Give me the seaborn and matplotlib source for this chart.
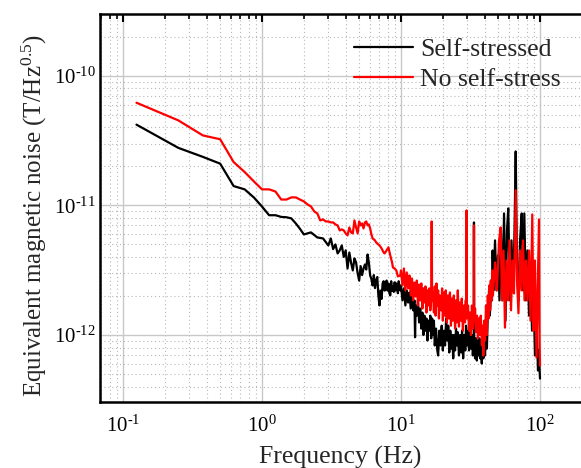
import numpy as np
import pandas as pd
import matplotlib
matplotlib.use("Agg")
import matplotlib.pyplot as plt
import seaborn as sns
from matplotlib.ticker import LogLocator, NullFormatter, FuncFormatter

series_names = ["Self-stressed", "No self-stress"]

self_freq = [0.125, 0.25, 0.375, 0.5, 0.625, 0.75, 0.875, 1.0, 1.125, 1.25, 1.375, 1.5,
             1.625, 1.75, 1.875, 2.0, 2.25, 2.5, 2.75, 3.0, 3.125, 3.25, 3.375, 3.5, 3.625,
             3.75, 3.875, 4.0, 4.125, 4.25, 4.375, 4.5, 4.625, 4.75, 4.875, 5.0, 5.125, 5.25,
             5.375, 5.5, 5.625, 5.75, 5.875, 6.0, 6.125, 6.25, 6.375, 6.5, 6.625, 6.75, 6.875,
             7.0, 7.125, 7.25, 7.375, 7.5, 7.625, 7.75, 7.875, 8.0, 8.125, 8.25, 8.375, 8.5,
             8.625, 8.75, 8.875, 9.0, 9.125, 9.25, 9.375, 9.5, 9.625, 9.75, 9.875,
             10.0, 10.25, 10.5, 10.75, 11.0, 11.25, 11.5, 11.75, 12.0, 12.25, 12.5, 12.625,
             12.75, 13.0, 13.25, 13.5, 13.75, 14.0, 14.25, 14.5, 14.75, 15.0, 15.25, 15.5,
             15.75, 16.0, 16.25, 16.5, 16.75, 17.0, 17.25, 17.5, 17.875, 18.25, 18.5, 18.875,
             19.25, 19.625, 20.0, 20.375, 20.75, 21.125, 21.5, 21.875, 22.25, 22.625, 23.0,
             23.375, 23.75, 24.125, 24.5, 24.875, 25.25, 25.625, 26.125, 26.625, 27.125, 27.5,
             28.0, 28.5, 29.0, 29.375, 29.875, 30.375, 30.875, 31.375, 31.875, 32.375, 32.875,
             33.375, 33.5, 33.625, 34.125, 34.625, 35.125, 35.625, 36.125, 36.625, 37.125,
             37.625, 38.125, 38.625, 39.125, 39.625, 40.25, 40.875, 41.5, 42.0, 42.5, 43.0,
             43.5, 44.0, 44.5, 45.125, 45.625, 46.25,
             47.5, 48.625, 49.875, 51.125, 52.375, 53.75, 55.125, 56.5, 57.875, 59.125, 60.875,
             62.375, 64.0, 65.5, 66.875, 68.375, 70.0, 71.875, 73.875, 75.5, 77.125, 79.25,
             81.25, 83.375, 85.5, 87.625, 89.875, 92.0, 94.375, 96.75, 98.0, 100.0]
self_noise = [4.2e-11, 2.78e-11, 2.37e-11, 2.1e-11, 1.41e-11, 1.33e-11, 1.15e-11, 9.8e-12,
              8.4e-12, 8.4e-12, 8.15e-12, 8.1e-12,
              7.94e-12, 7.26e-12, 6.6e-12, 5.97e-12, 6.19e-12, 5.66e-12, 5.56e-12, 4.91e-12,
              5.56e-12, 4.6e-12, 5.0e-12, 4.26e-12, 4.5e-12,
              4.91e-12, 4.0e-12, 4.5e-12, 3.26e-12, 4.33e-12, 3.6e-12, 3.15e-12, 3.9e-12,
              3.63e-12, 3.0e-12, 2.63e-12, 3.4e-12, 2.9e-12,
              3.26e-12, 3.5e-12, 3.2e-12, 4.18e-12, 3.6e-12, 2.88e-12, 2.7e-12, 2.41e-12,
              2.9e-12, 2.3e-12, 2.63e-12, 2.8e-12, 2.02e-12,
              1.69e-12, 2.2e-12, 1.9e-12, 2.5e-12, 2.6e-12, 2.2e-12, 2.45e-12, 2.63e-12,
              2.2e-12, 2.5e-12, 2.1e-12, 2.02e-12, 2.6e-12,
              2.2e-12, 2.37e-12, 2.15e-12, 2.55e-12, 2.2e-12, 2.5e-12, 2.4e-12, 2.1e-12,
              2.6e-12, 2.35e-12, 2.21e-12,
              2.41e-12, 1.85e-12, 2.29e-12, 1.69e-12, 2.21e-12, 1.78e-12, 2.13e-12, 1.60e-12,
              1.98e-12, 1.55e-12, 1.85e-12, 9.6e-13,
              1.69e-12, 1.41e-12, 1.85e-12, 1.25e-12, 1.60e-12, 1.12e-12, 1.49e-12, 1.0e-12,
              1.41e-12, 1.08e-12, 1.34e-12, 9.07e-13,
              1.29e-12, 1.08e-12, 1.41e-12, 9.43e-13, 1.34e-12, 1.0e-12, 1.29e-12, 8.3e-13,
              1.12e-12, 7.6e-13, 6.95e-13, 1.08e-12,
              8.3e-13, 1.18e-12, 7.6e-13, 1.08e-12, 8.3e-13, 1.34e-12, 9.07e-13, 1.18e-12,
              7.33e-13, 1.08e-12, 7.86e-13,
              1.0e-12, 6.6e-13, 1.0e-12, 7.6e-13, 1.12e-12, 8.3e-13, 1.05e-12, 6.95e-13,
              1.0e-12, 7.33e-13, 1.08e-12,
              6.6e-13, 1.0e-12, 7.6e-13, 1.18e-12, 8.3e-13, 1.08e-12, 7.6e-13, 1.12e-12,
              7.86e-13, 1.0e-12, 6.95e-13,
              9.07e-13, 7.39e-12, 8.76e-13, 6.6e-13, 9.43e-13, 6.35e-13, 9.07e-13, 6.95e-13,
              9.43e-13, 6.6e-13,
              8.3e-13, 6.02e-13, 8.3e-13, 6.6e-13, 9.07e-13, 6.95e-13, 1.08e-12, 7.86e-13,
              1.29e-12, 1.55e-12, 2.21e-12,
              1.41e-12, 1.69e-12, 2.63e-12, 1.85e-12, 4.49e-12, 2.21e-12,
              5.37e-12, 2.21e-12, 4.11e-12, 1.85e-12, 6.41e-12, 1.85e-12, 8.67e-12, 1.29e-12,
              6.41e-12, 9.48e-12, 1.85e-12,
              5.37e-12, 2.21e-12, 5.87e-12, 2.61e-11, 3.15e-12, 1.85e-12, 5.37e-12, 8.67e-12,
              2.21e-12, 8.67e-12, 1.85e-12,
              4.49e-12, 1.41e-12, 3.44e-12, 1.08e-12, 2.21e-12, 6.95e-13, 1.29e-12, 5.32e-13,
              7.6e-13, 4.61e-13]

nostress_freq = [0.125, 0.25, 0.375, 0.5, 0.625, 0.75, 0.875, 1.0, 1.125, 1.25, 1.375, 1.5,
                 1.625, 1.75, 1.875, 2.0, 2.125, 2.25, 2.375, 2.5, 2.625, 2.75, 2.875, 3.0,
                 3.125, 3.25, 3.375, 3.5, 3.625, 3.75, 3.875, 4.0, 4.125, 4.25, 4.375, 4.5,
                 4.625, 4.75, 4.875, 5.0, 5.125, 5.25, 5.375, 5.5, 5.625, 5.75, 5.875, 6.0,
                 6.125, 6.25, 6.5, 6.625, 6.875, 7.0, 7.25, 7.5, 7.625, 7.875, 8.125, 8.375,
                 8.625, 8.75, 9.0, 9.25, 9.5, 9.875,
                 10.0, 10.25, 10.5, 10.75, 11.0, 11.25, 11.5, 11.75, 12.0, 12.25, 12.5, 12.75,
                 13.0, 13.25, 13.5, 13.75, 14.0, 14.25, 14.5, 14.75, 15.0, 15.25, 15.5, 15.75,
                 16.0, 16.25, 16.5, 16.625, 16.75, 17.0, 17.25, 17.5, 17.75, 18.0, 18.25, 18.5,
                 18.75, 19.0, 19.5, 19.75, 20.0, 20.375, 20.75, 21.0, 21.375, 21.75, 22.125,
                 22.5, 22.875, 23.25, 23.625, 24.0, 24.5, 24.875, 25.25, 25.625, 26.125, 26.5,
                 27.0, 27.375, 27.875, 28.375, 28.875, 29.25, 29.5, 29.625, 29.75, 30.375,
                 30.875, 31.375, 31.875, 32.375, 32.875, 33.375, 33.5, 33.625, 34.125, 34.625,
                 35.25, 35.75, 36.375, 37.0, 37.5, 38.25, 38.75, 39.125, 39.625, 40.25, 40.875,
                 41.5, 42.125, 42.625, 43.25, 43.75, 44.25, 44.75, 45.375, 45.875,
                 47.5, 49.0, 50.75, 52.125, 53.25, 54.625, 56.0, 57.375, 58.875, 60.375,
                 61.875, 63.375, 65.0, 66.875, 68.375, 70.0, 71.875, 73.625, 75.5, 77.375,
                 79.25, 81.25, 83.375, 85.5, 88.0, 89.875, 92.0, 94.375, 96.0, 98.375, 99.25,
                 100.0]
nostress_noise = [6.2e-11, 4.53e-11, 3.47e-11, 3.24e-11, 2.16e-11, 1.81e-11, 1.53e-11,
                  1.33e-11, 1.33e-11, 1.28e-11, 1.11e-11, 1.11e-11,
                  1.153e-11, 1.153e-11, 1.11e-11, 1.074e-11, 1.018e-11, 9.82e-12, 8.99e-12,
                  8.67e-12, 7.66e-12, 7.8e-12, 7.52e-12, 7.52e-12,
                  7.39e-12, 7.39e-12, 7.13e-12, 7.01e-12, 6.41e-12, 6.53e-12, 6.41e-12,
                  6.08e-12, 5.87e-12, 6.76e-12, 6.19e-12, 6.08e-12,
                  7.66e-12, 6.76e-12, 6.08e-12, 7.52e-12, 7.01e-12, 7.26e-12, 6.64e-12,
                  7.39e-12, 7.52e-12, 7.01e-12, 7.13e-12, 6.64e-12,
                  5.97e-12, 5.56e-12, 5.37e-12, 5.18e-12, 5.0e-12, 4.91e-12, 4.66e-12,
                  4.33e-12, 4.26e-12, 4.49e-12, 4.74e-12, 4.11e-12,
                  3.63e-12, 3.32e-12, 3.26e-12, 3.15e-12, 2.83e-12, 2.88e-12,
                  3.15e-12, 2.41e-12, 3.26e-12, 2.21e-12, 3.04e-12, 2.29e-12, 2.88e-12, 2.02e-12,
                  2.73e-12, 1.85e-12, 2.54e-12, 1.98e-12,
                  2.63e-12, 1.69e-12, 2.45e-12, 1.85e-12, 2.50e-12, 1.60e-12, 2.29e-12, 1.78e-12,
                  2.37e-12, 1.49e-12, 2.21e-12, 1.69e-12,
                  2.29e-12, 1.55e-12, 1.91e-12, 7.52e-12, 1.85e-12, 2.13e-12, 1.49e-12, 2.37e-12,
                  1.41e-12, 2.50e-12, 1.69e-12, 2.21e-12,
                  1.34e-12, 2.02e-12, 1.55e-12, 2.29e-12, 1.29e-12, 2.13e-12, 1.41e-12, 2.21e-12,
                  1.25e-12, 2.02e-12, 1.34e-12,
                  2.13e-12, 1.18e-12, 1.91e-12, 1.29e-12, 2.02e-12, 1.12e-12, 1.85e-12, 1.25e-12,
                  2.21e-12, 1.16e-12, 1.78e-12,
                  1.29e-12, 1.91e-12, 1.08e-12, 1.69e-12, 1.25e-12, 1.85e-12, 1.41e-12, 9.15e-12,
                  1.34e-12, 1.69e-12,
                  1.08e-12, 1.49e-12, 1.0e-12, 1.69e-12, 1.12e-12, 1.41e-12, 7.01e-12, 1.29e-12,
                  1.60e-12, 1.05e-12,
                  1.41e-12, 9.43e-13, 1.34e-12, 1.0e-12, 1.41e-12, 8.3e-13, 1.18e-12, 6.95e-13,
                  1.29e-12, 9.07e-13, 1.69e-12,
                  1.0e-12, 2.02e-12, 1.34e-12, 2.41e-12, 1.55e-12, 2.63e-12, 1.85e-12, 3.15e-12,
                  2.02e-12,
                  3.63e-12, 2.21e-12, 5.37e-12, 6.76e-12, 1.85e-12, 4.49e-12, 1.14e-12, 3.76e-12,
                  1.85e-12, 5.37e-12,
                  1.55e-12, 3.76e-12, 2.09e-12, 1.31e-11, 2.63e-12, 1.47e-12, 4.49e-12, 2.21e-12,
                  5.37e-12, 1.85e-12,
                  3.76e-12, 1.85e-12, 4.49e-12, 1.29e-12, 8.52e-12, 1.08e-12, 3.76e-12, 6.7e-13,
                  1.85e-12, 7.8e-12, 9.07e-13,
                  5.8e-13]

x_tick_values = [0.1, 1, 10, 100]
y_tick_values = [1e-12, 1e-11, 1e-10]
x_limits = (0.0683, 229.0)
y_limits = (3.04e-13, 3.0e-10)
line_colors = ["#000000", "#ff0000"]

df = pd.concat([
    pd.DataFrame({"freq": self_freq, "noise": self_noise, "series": series_names[0]}),
    pd.DataFrame({"freq": nostress_freq, "noise": nostress_noise, "series": series_names[1]}),
], ignore_index=True)

sns.set_style("white")
plt.rcParams["font.family"] = ["Liberation Serif", "DejaVu Serif"]
plt.rcParams["mathtext.fontset"] = "custom"
plt.rcParams["mathtext.rm"] = "Liberation Serif"
plt.rcParams["mathtext.it"] = "Liberation Serif:italic"
plt.rcParams["mathtext.bf"] = "Liberation Serif:bold"
plt.rcParams["axes.unicode_minus"] = False

fig = plt.figure(figsize=(5.81, 4.68), dpi=100)
ax = fig.add_axes([100 / 581, 1 - 402 / 468, 490 / 581, 388 / 468])
ax.set_xscale("log")
ax.set_yscale("log")

sns.lineplot(data=df, x="freq", y="noise", hue="series", hue_order=series_names,
             palette=line_colors, estimator=None, sort=False, linewidth=1.6, ax=ax)


def pow10_label(v, pos):
    e = int(round(np.log10(v)))
    if e < 0:
        return "$10^{\u2010" + str(-e) + "}$"
    return "$10^{" + str(e) + "}$"


ax.set_xlim(*x_limits)
ax.set_ylim(*y_limits)
ax.set_xticks(x_tick_values)
ax.set_yticks(y_tick_values)
ax.xaxis.set_major_formatter(FuncFormatter(pow10_label))
ax.yaxis.set_major_formatter(FuncFormatter(pow10_label))
ax.xaxis.set_minor_locator(LogLocator(base=10, subs=np.arange(2, 10), numticks=20))
ax.yaxis.set_minor_locator(LogLocator(base=10, subs=np.arange(2, 10), numticks=20))
ax.xaxis.set_minor_formatter(NullFormatter())
ax.yaxis.set_minor_formatter(NullFormatter())
ax.set_xlim(*x_limits)
ax.set_ylim(*y_limits)

ax.set_axisbelow(True)
ax.grid(which="major", color="#c8c8c8", linewidth=1.0, linestyle="-")
ax.grid(which="minor", color="#b8b8b8", linewidth=0.8, linestyle=(0, (1, 2.5)))

for s in ax.spines.values():
    s.set_linewidth(1.8)
    s.set_color("black")
ax.tick_params(which="both", direction="in", top=True, right=True, colors="black")
ax.tick_params(which="major", length=6, width=1.5, labelsize=15)
ax.tick_params(axis="x", which="major", pad=10)
ax.tick_params(axis="y", which="major", pad=3)
ax.tick_params(which="minor", length=3.5, width=1.2)

ax.set_xlabel("Frequency (Hz)", fontsize=18.5)
ax.xaxis.set_label_coords(0.49, -0.113)
ax.set_ylabel("Equivalent magnetic noise (T/Hz$^{0.5}$)", fontsize=18)
ax.yaxis.set_label_coords(-0.104, 0.48)

handles, labels = ax.get_legend_handles_labels()
for h in handles:
    h.set_linewidth(1.6)
ax.legend(handles, labels, loc="upper left", bbox_to_anchor=(0.518, 0.938),
          frameon=False, fontsize=18.5, handlelength=2.3, handletextpad=0.27,
          labelspacing=0.29, borderpad=0, borderaxespad=0)

fig.savefig("out.png", dpi=100)
